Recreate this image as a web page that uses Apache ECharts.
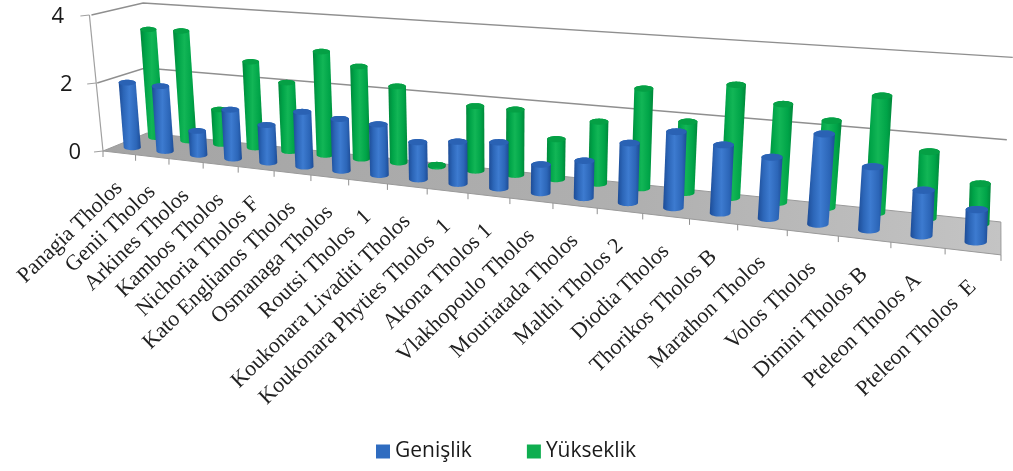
<!DOCTYPE html>
<html><head><meta charset="utf-8">
<style>html,body{margin:0;padding:0;background:#fff}#c{width:1013px;height:471px}canvas{filter:blur(0.4px)}</style>
<script src="https://cdn.jsdelivr.net/npm/echarts@6/dist/echarts.min.js"></script>
</head><body><div id="c"></div>
<script>
const categories = ["Panagia Tholos","Genii Tholos","Arkines Tholos","Kambos Tholos","Nichoria Tholos F","Kato Englianos Tholos","Osmanaga Tholos","Routsi Tholos  1","Koukonara Livaditi Tholos","Koukonara Phyties Tholos  1","Akona Tholos 1","Vlakhopoulo Tholos","Mouriatada Tholos","Malthi Tholos 2","Diodia Tholos","Thorikos Tholos B","Marathon Tholos","Volos Tholos","Dimini Tholos B","Pteleon Tholos A","Pteleon Tholos  E"];
const genislik = [1.92,1.9,0.69,1.4,1.06,1.53,1.43,1.38,1.0,1.12,1.21,0.74,0.95,1.51,1.9,1.68,1.49,2.16,1.49,1.06,0.74];
const yukseklik = [3.28,3.3,1.03,2.53,2.0,2.98,2.63,2.15,0.05,1.78,1.78,1.08,1.65,2.62,1.85,2.9,2.5,2.18,2.9,1.63,0.97];
const yTicks = [0,2,4];

const N = categories.length, YMAX = 4;
const GRID = {left:103, top:15, width:898, height:136};
const C = -0.01175;
function lean(x){ return x<820 ? -0.085+(x-103)*0.00022 : 0.073-(x-820)*0.00025; }
function leanWall(x){ return -0.03+(x-147)*0.00012; }
function floorPt(t,d){
  const den=1+C*t;
  const fx=(31*t+103)/den, bx=(28.9*t+147)/den;
  const fy=151+(fx-103)*0.1157, by=133+(bx-147)*0.1042;
  return [fx+(bx-fx)*d, fy+(by-fy)*d, den];
}
function scaleAt(t,d){ const f=34/(1+C*t), b=32.5/(1-0.01*t); return f+(b-f)*d; }
function project(t,d,h,wall){
  const p=floorPt(t,d), s=scaleAt(t,d);
  const l=wall?leanWall(p[0]):lean(p[0]);
  return [p[0]+l*h*s, p[1]-h*s];
}
function toModel(pt,sys){ return {t:(pt[0]-sys.x)/sys.width*N, h:(sys.y+sys.height-pt[1])/sys.height*YMAX}; }

function cylinder(t,d,h,w,cols,shift){
  const dx=Math.min(shift[0],t*shift[1]);
  const b=project(t,d,0), a=project(t,d,h);
  b[0]+=dx; a[0]+=dx;
  const den=1+C*t, rx=w/den/2, ry=rx*0.33;
  const body=[], top=[];
  const steps=18;
  for(let i=0;i<=steps;i++){ const th=Math.PI+Math.PI*i/steps; body.push([a[0]+rx*Math.cos(th), a[1]+ry*Math.sin(th)]); }
  for(let i=0;i<=steps;i++){ const th=Math.PI*i/steps; body.push([b[0]+rx*Math.cos(th), b[1]+ry*Math.sin(th)]); }
  for(let i=0;i<steps*2;i++){ const th=Math.PI*i/steps; top.push([a[0]+rx*Math.cos(th), a[1]+ry*Math.sin(th)]); }
  return {type:'group',children:[
    {type:'polygon',shape:{points:body},style:{fill:new echarts.graphic.LinearGradient(0,0,1,0,[
      {offset:0,color:cols[0]},{offset:0.22,color:cols[1]},{offset:0.48,color:cols[2]},{offset:0.8,color:cols[1]},{offset:1,color:cols[0]}])}},
    {type:'polygon',shape:{points:top},style:{fill:cols[3]}}
  ]};
}
function barRender(d,w,cols,shift){
  return function(params,api){
    const sys=params.coordSys;
    const m=toModel(api.coord([api.value(0)+0.5,api.value(1)]),sys);
    return cylinder(m.t,d,m.h,w,cols,shift);
  };
}
function frameRender(params,api){
  const ch=[], stroke='#8f8f8f';
  const f00=project(0,0,0), f10=project(N,0,0), b00=project(0,1,0,true), b10=project(N,1,0,true);
  ch.push({type:'polygon',shape:{points:[f00,f10,b10,b00]},style:{
    fill:new echarts.graphic.LinearGradient(0,0,1,0,[{offset:0,color:'#a4a4a4'},{offset:0.6,color:'#b0b0b0'},{offset:1,color:'#c4c4c4'}]),stroke:'#9a9a9a',lineWidth:1}});
  yTicks.forEach(v=>{
    if(v>0){
      const pts=[[103+lean(103)*v*34,151-v*34], project(0,1,v,true), project(N,1,v,true)];
      ch.push({type:'polyline',shape:{points:pts},style:{stroke,lineWidth:1.4,fill:null}});
    }
  });
  ch.push({type:'line',shape:{x1:103,y1:151,x2:103-0.1*136,y2:15},style:{stroke:'#a0a0a0',lineWidth:1.2}});
  yTicks.forEach(v=>{
    const x=103-0.1*v*34, y=151-v*34;
    ch.push({type:'line',shape:{x1:x,y1:y,x2:x-9,y2:y+1},style:{stroke:'#a0a0a0',lineWidth:1.2}});
    ch.push({type:'text',x:x-22-v*0.8,y:y+2,style:{text:String(v),align:'right',verticalAlign:'middle',
      font:'22px "Open Sans"',fill:'#1a1a1a'}});
  });
  for(let t=0;t<=N;t++){
    const p=project(t,0,0);
    ch.push({type:'line',shape:{x1:p[0],y1:p[1],x2:p[0],y2:p[1]+6},style:{stroke:'#8f8f8f',lineWidth:1}});
  }
  return {type:'group',children:ch};
}
function labelRender(params,api){
  const i=api.value(0);
  const m=toModel(api.coord([i+0.5,0]),params.coordSys);
  const p=project(m.t,0,0);
  return {type:'text',x:p[0],y:p[1]+32,rotation:44*Math.PI/180,originX:0,originY:0,
    style:{text:categories[i],align:'right',verticalAlign:'middle',font:'22px "Liberation Serif"',fill:'#222'}};
}
const blueCols=['#1d4c96','#2c66b8','#3d7bd0','#2a62b4'], greenCols=['#00873a','#00a448','#12b656','#05a045'];
const chart=echarts.init(document.getElementById('c'),null,{renderer:'canvas'});
chart.setOption({
  animation:false,
  grid:{left:GRID.left,top:GRID.top,width:GRID.width,height:GRID.height},
  xAxis:{type:'value',min:0,max:N,show:false},
  yAxis:{type:'value',min:0,max:YMAX,interval:2,show:false},
  legend:{data:['Genişlik','Yükseklik'],left:371,top:436,icon:'rect',itemWidth:14,itemHeight:14,itemGap:55,selectedMode:false,
    textStyle:{fontFamily:'Open Sans',fontSize:21,color:'#1a1a1a'}},
  tooltip:{show:false},
  series:[
    {type:'custom',name:'frame',coordinateSystem:'cartesian2d',silent:true,clip:false,z:1,data:[[0,0]],renderItem:frameRender},
    {type:'custom',name:'labels',coordinateSystem:'cartesian2d',silent:true,clip:false,z:1,data:categories.map((c,i)=>[i,0]),renderItem:labelRender},
    {type:'custom',name:'Yükseklik',coordinateSystem:'cartesian2d',clip:false,z:2,itemStyle:{color:'#0fae50'},
      data:yukseklik.map((v,i)=>[i,v]),renderItem:barRender(0.85,16,greenCols,[5,0.6])},
    {type:'custom',name:'Genişlik',coordinateSystem:'cartesian2d',clip:false,z:3,itemStyle:{color:'#2f6cc0'},
      data:genislik.map((v,i)=>[i,v]),renderItem:barRender(0.3,17,blueCols,[2.5,0.3])}
  ]
});
</script></body></html>
